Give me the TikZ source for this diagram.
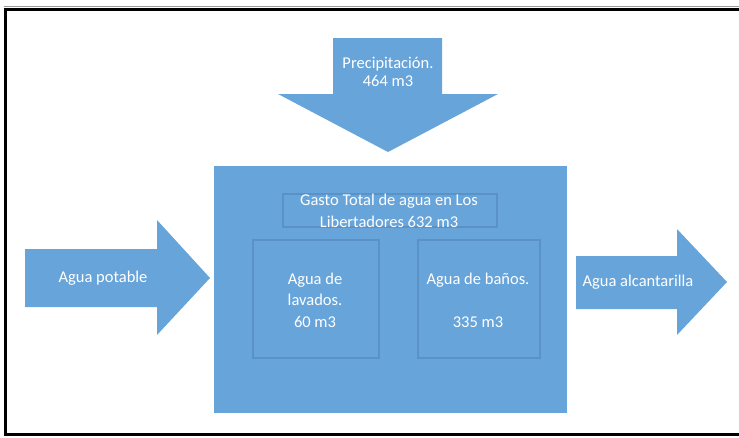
\documentclass[tikz,border=0pt]{standalone}
\usepackage{fontspec}
\setmainfont{Carlito}
\usetikzlibrary{positioning}

\definecolor{flowblue}{RGB}{103,164,218}
\definecolor{edgeblue}{RGB}{90,146,200}

\tikzset{
  blocktext/.style={text=white, align=center, inner sep=0pt, font=\fontsize{16.5}{21.5}\selectfont},
  subbox/.style={draw=edgeblue, line width=1.2pt, fill=flowblue, minimum width=#1, inner sep=0pt},
  flowarrow/.style={fill=flowblue}
}

\begin{document}
\begin{tikzpicture}[x=1pt, y=-1pt]

        % Page size
        \useasboundingbox (0,0) rectangle (739,437);

        % Frame (right edge is cut off)
        \draw[black!40, line width=0.6pt] (739,6.5) -- (4,6.5);
        \draw[black, line width=3pt] (745,9.5) -- (5.5,9.5) -- (5.5,434.5) -- (745,434.5);

        % Main box
        \node[fill=flowblue, minimum width=353pt, minimum height=247pt, inner sep=0pt] (total) at (390.5,289.5) {};

        % Title box inside the main box
        \node[subbox=214pt, minimum height=33pt] (titlebox) at (390,210.5) {};
        \node[blocktext] (title) at (389,211) {Gasto Total de agua en Los\\Libertadores 632 m3};

        % Water uses
        \node[subbox=126pt, minimum height=118pt] (lavados) at (316,299) {};
        \node[subbox=122pt, minimum height=118pt] (banos) at (479,299) {};
        \node[blocktext] (lavtext) at (315,300) {Agua de\\lavados.\\60 m3};
        \node[blocktext] (bantext) at (478,300) {Agua de baños.\\\strut\\335 m3};

        % Rain arrow (down)
        \coordinate (raintip) at (388,152);
        \fill[flowarrow] (333,38) -- (442,38) -- (442,94) -- (498,94) -- (raintip) -- (278,94) -- (333,94) -- cycle;
        \node[blocktext, font=\fontsize{16.5}{18.5}\selectfont] (rain) at (388,72) {Precipitación.\\464 m3};

        % Drinking water arrow (in)
        \coordinate (intip) at (210,278);
        \fill[flowarrow] (25,249) -- (157,249) -- (157,220) -- (intip) -- (157,335) -- (157,307) -- (25,307) -- cycle;
        \node[blocktext] (potable) at (103,278) {Agua potable};

        % Sewer arrow (out)
        \coordinate (outtip) at (727,282);
        \fill[flowarrow] (576,256) -- (677,256) -- (677,229) -- (outtip) -- (677,335) -- (677,309) -- (576,309) -- cycle;
        \node[blocktext] (sewer) at (638,282) {Agua alcantarilla};

\end{tikzpicture}
\end{document}
